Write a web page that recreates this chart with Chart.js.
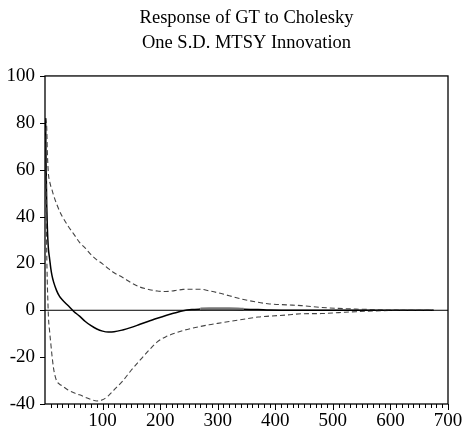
<!DOCTYPE html>
<html>
<head>
<meta charset="utf-8">
<script src="https://cdn.jsdelivr.net/npm/chart.js@4/dist/chart.umd.min.js"></script>
<style>
html,body{margin:0;padding:0;background:#fff;}
#wrap{width:464px;height:432px;position:relative;}
</style>
</head>
<body>
<div id="wrap"><canvas id="c" width="464" height="432"></canvas></div>
<script>
const titleLines = ['Response of GT to Cholesky', 'One S.D. MTSY Innovation'];
const periods   = [1,2,3,4,5,6,8,10,12,15,20,25,30,40,50,60,70,80,90,100,110,120,135,150,165,180,195,210,225,240,255,270,285,300,320,345,370,390,420,445,480,510,540,570,600,640,675];
const response  = [82,60,45,36,30,26,22,18,15,12,8.5,6,4.5,2,-0.5,-2.5,-4.8,-6.6,-8,-8.9,-9.3,-9.2,-8.4,-7.3,-6,-4.7,-3.4,-2.2,-1.2,-0.2,0.3,0.5,0.6,0.6,0.6,0.4,0.3,0.1,0.05,0,0,0,0,0,0,0,0];
const upperBand = [82,81,78,68,62,58,55,53,51.5,49,45.5,42.5,40,36,32.5,29,26.5,23.7,21.5,19.8,17.8,16,14,11.7,9.9,8.9,8.2,8,8.4,8.9,9,9,8.3,7.5,6.2,4.6,3.4,2.7,2.3,2,1.2,0.8,0.5,0.3,0.1,0,0];
const lowerBand = [78,50,25,12,4,-3,-9,-14,-19,-25,-30,-31.5,-32.3,-34,-35.2,-36.1,-37.1,-38.1,-38.7,-38.2,-36.5,-34,-30.2,-25.5,-21.3,-17.2,-13.5,-11.3,-9.8,-8.6,-7.7,-6.9,-6.2,-5.6,-4.8,-3.8,-2.9,-2.5,-2,-1.5,-1.4,-1,-0.6,-0.3,-0.1,0,0];
const xTicks = [0,100,200,300,400,500,600,700];
const yTicks = [-40,-20,0,20,40,60,80,100];

const pts = arr => periods.map((p,i)=>({x:p,y:arr[i]}));
const FONT = "'Liberation Serif','Times New Roman',serif";

const framePlugin = {
  id:'frame',
  afterLayout(chart){
    const t = chart.titleBlock, a = chart.chartArea;
    if (t && a) { t.left = a.left; t.right = a.right; t.width = a.right - a.left; }
  },
  afterDraw(chart){
    const {ctx, chartArea:a, scales:{x,y}} = chart;
    ctx.save();
    ctx.strokeStyle='#000';
    ctx.lineWidth=1.3;
    ctx.strokeRect(a.left, a.top, a.right-a.left, a.bottom-a.top);
    const y0 = y.getPixelForValue(0);
    ctx.lineWidth=1;
    ctx.beginPath(); ctx.moveTo(a.left,y0); ctx.lineTo(a.right,y0); ctx.stroke();
    for(let v=10; v<=700; v+=10){
      const px = Math.round(x.getPixelForValue(v))+0.5;
      const len = (v%100===0)?6:4;
      ctx.beginPath(); ctx.moveTo(px,a.bottom); ctx.lineTo(px,a.bottom+len); ctx.stroke();
    }
    yTicks.forEach(v=>{
      const py = Math.round(y.getPixelForValue(v))+0.5;
      ctx.beginPath(); ctx.moveTo(a.left-5,py); ctx.lineTo(a.left,py); ctx.stroke();
    });
    ctx.restore();
  }
};

const grayPart = c => c.p0.parsed.x >= 270 && c.p1.parsed.x <= 345;

new Chart(document.getElementById('c'), {
  type:'line',
  data:{
    datasets:[
      {label:'Upper', data:pts(upperBand), borderColor:'#444', borderWidth:1.1, borderDash:[5,3], pointRadius:0, cubicInterpolationMode:'monotone', fill:false},
      {label:'Lower', data:pts(lowerBand), borderColor:'#444', borderWidth:1.1, borderDash:[5,3], pointRadius:0, cubicInterpolationMode:'monotone', fill:false},
      {label:'Response', data:pts(response), borderColor:'#000', borderWidth:1.5, pointRadius:0, cubicInterpolationMode:'monotone', fill:false,
       segment:{borderColor:c=>grayPart(c)?'#777':undefined, borderWidth:c=>grayPart(c)?3:undefined}}
    ]
  },
  options:{
    responsive:false,
    animation:false,
    layout:{padding:{left:0,right:0,top:0,bottom:0}},
    plugins:{
      legend:{display:false},
      tooltip:{enabled:false},
      title:{display:true, text:titleLines, color:'#000', font:{family:FONT,size:18.5,weight:'normal',lineHeight:1.35}, padding:{top:6,bottom:20}}
    },
    scales:{
      x:{
        type:'linear', min:0, max:700,
        afterBuildTicks(s){ s.ticks = xTicks.map(v=>({value:v})); },
        afterFit(s){ s.height = 28; s.paddingRight = 16; s.paddingLeft = 0; },
        ticks:{color:'#000', font:{family:FONT,size:19}, padding:6, maxRotation:0, callback:v=>v===0?'':String(v)},
        grid:{display:false, drawTicks:false},
        border:{display:false}
      },
      y:{
        min:-40, max:100,
        afterBuildTicks(s){ s.ticks = yTicks.map(v=>({value:v})); },
        afterFit(s){ s.width = 45; s.paddingTop = 0; },
        ticks:{color:'#000', font:{family:FONT,size:19}, padding:10},
        grid:{display:false, drawTicks:false},
        border:{display:false}
      }
    }
  },
  plugins:[framePlugin]
});
</script>
</body>
</html>
